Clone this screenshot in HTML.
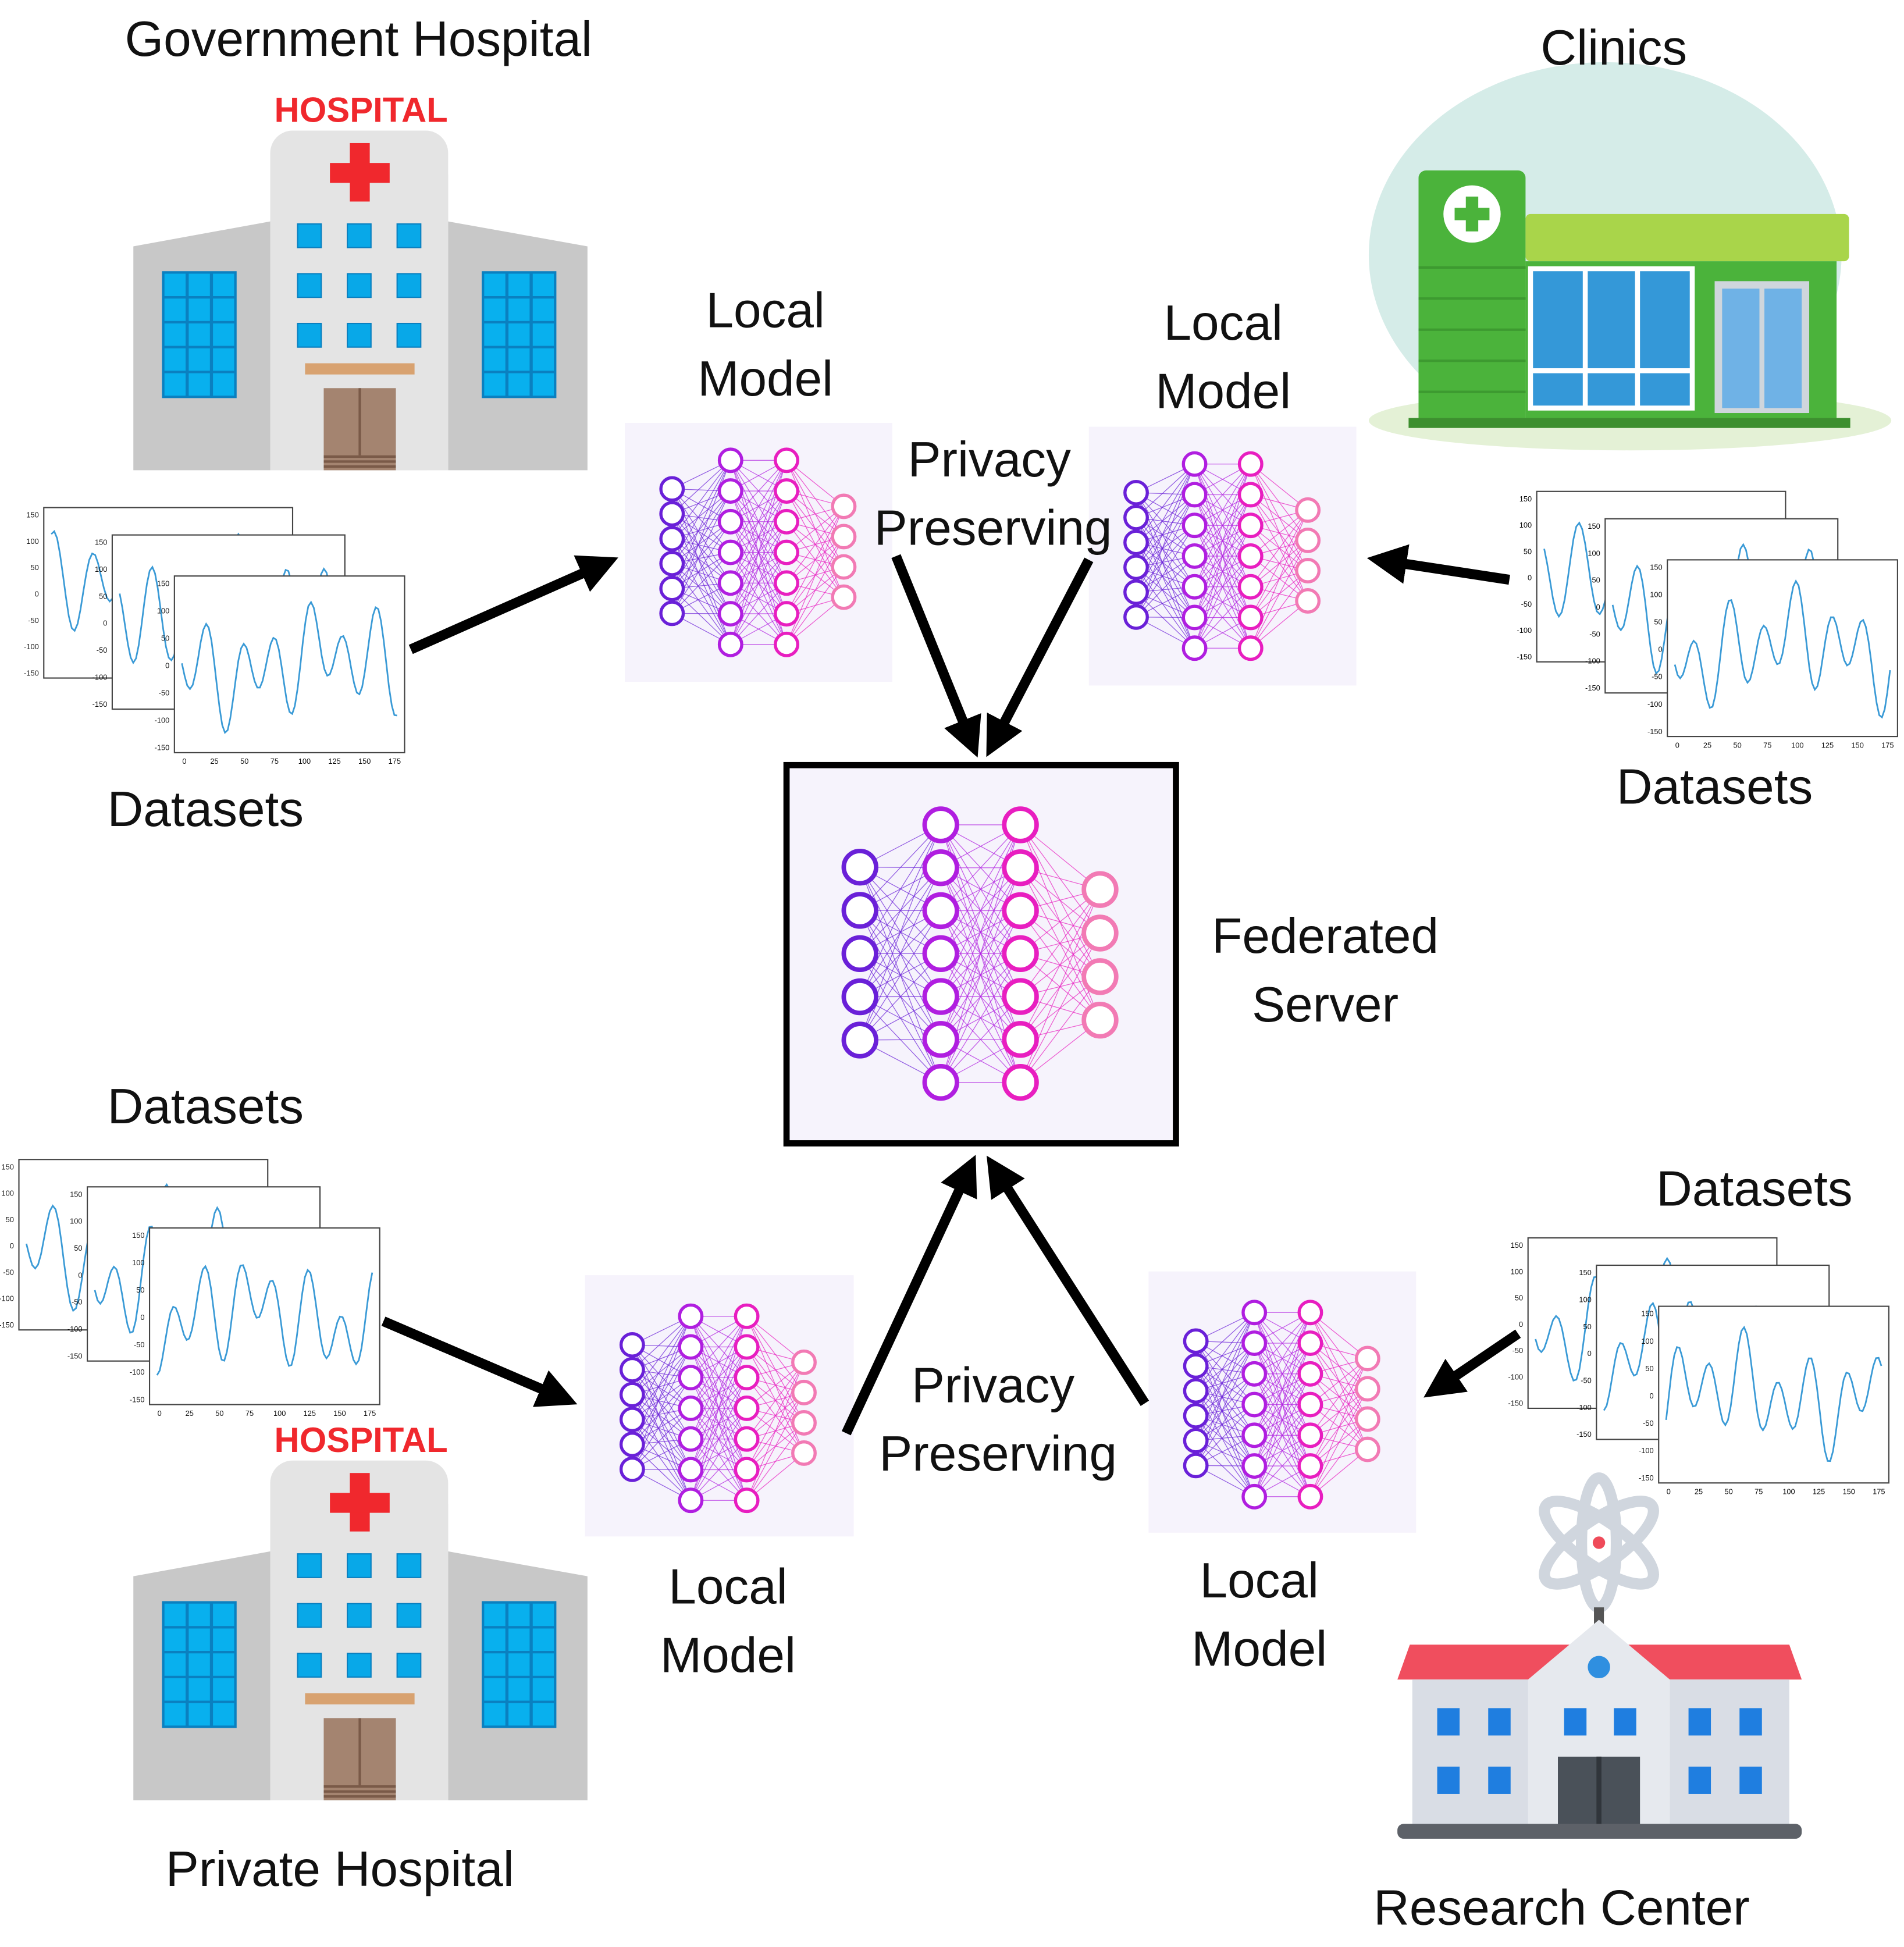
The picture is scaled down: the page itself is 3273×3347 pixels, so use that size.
<!DOCTYPE html>
<html><head><meta charset="utf-8">
<style>
html,body{margin:0;padding:0;background:#fff;}
svg{display:block;}
text{font-family:"Liberation Sans",sans-serif;fill:#111;}
</style></head>
<body>
<svg id="s" width="3273" height="3347" viewBox="0 0 1530 1565" xmlns="http://www.w3.org/2000/svg">
<defs>
<marker id="ah" viewBox="0 0 10 10" refX="7" refY="5" markerWidth="4" markerHeight="4" orient="auto"><path d="M0,0 L10,5 L0,10 z" fill="#000"/></marker>
</defs>
<rect width="1530" height="1565" fill="#fff"/>

<!-- Clinic -->
<g>
<ellipse cx="1290" cy="205" rx="190" ry="155" fill="#d5ece8"/>
<ellipse cx="1310" cy="338" rx="210" ry="24" fill="#e4f1d6"/>
<rect x="1140" y="137" width="86" height="205" rx="6" fill="#4bb33b"/>
<g stroke="#3d9a30" stroke-width="2"><line x1="1140" y1="215" x2="1226" y2="215"/><line x1="1140" y1="240" x2="1226" y2="240"/><line x1="1140" y1="265" x2="1226" y2="265"/><line x1="1140" y1="290" x2="1226" y2="290"/><line x1="1140" y1="315" x2="1226" y2="315"/></g>
<circle cx="1183" cy="172" r="23" fill="#fff"/>
<rect x="1178" y="158" width="10" height="28" fill="#4bb33b"/><rect x="1169" y="167" width="28" height="10" fill="#4bb33b"/>
<rect x="1226" y="172" width="260" height="38" rx="4" fill="#a9d54a"/>
<rect x="1226" y="210" width="250" height="132" fill="#4bb33b"/>
<rect x="1228" y="214" width="134" height="116" fill="#fff"/>
<rect x="1232" y="218" width="40" height="78" fill="#3498d8"/><rect x="1276" y="218" width="38" height="78" fill="#3498d8"/><rect x="1318" y="218" width="40" height="78" fill="#3498d8"/>
<rect x="1232" y="300" width="40" height="26" fill="#3498d8"/><rect x="1276" y="300" width="38" height="26" fill="#3498d8"/><rect x="1318" y="300" width="40" height="26" fill="#3498d8"/>
<rect x="1378" y="226" width="76" height="106" fill="#cfd6dc"/>
<rect x="1384" y="232" width="30" height="96" fill="#6fb2e6"/><rect x="1418" y="232" width="30" height="96" fill="#6fb2e6"/>
<rect x="1132" y="336" width="355" height="8" fill="#3d8f2f"/>
</g>
<text x="1297" y="52" font-size="40" text-anchor="middle">Clinics</text>

<!-- Hospitals -->
<g id="hosp1"></g>
<g id="hosp2"></g>

<!-- Research center -->
<g>
<g fill="none" stroke="#d0d6de" stroke-width="9">
<ellipse cx="1285" cy="1240" rx="52" ry="18" transform="rotate(35 1285 1240)"/>
<ellipse cx="1285" cy="1240" rx="52" ry="18" transform="rotate(-35 1285 1240)"/>
<ellipse cx="1285" cy="1240" rx="14" ry="52"/>
</g>
<circle cx="1285" cy="1240" r="5" fill="#ef4b5a"/>
<rect x="1281" y="1292" width="8" height="14" fill="#555"/>
<path d="M1133 1322 H1438 L1448 1350 H1123 Z" fill="#f04e5e"/>
<rect x="1135" y="1350" width="303" height="118" fill="#d9dde5"/>
<path d="M1228 1350 L1285 1302 L1342 1350 V1468 H1228 Z" fill="#e6e9ee"/>
<circle cx="1285" cy="1340" r="9" fill="#2f8fe0"/>
<g fill="#1f7ee0">
<rect x="1155" y="1373" width="18" height="22"/><rect x="1196" y="1373" width="18" height="22"/>
<rect x="1257" y="1373" width="18" height="22"/><rect x="1297" y="1373" width="18" height="22"/>
<rect x="1357" y="1373" width="18" height="22"/><rect x="1398" y="1373" width="18" height="22"/>
<rect x="1155" y="1420" width="18" height="22"/><rect x="1196" y="1420" width="18" height="22"/>
<rect x="1357" y="1420" width="18" height="22"/><rect x="1398" y="1420" width="18" height="22"/>
</g>
<rect x="1252" y="1412" width="66" height="56" fill="#4a5159"/>
<rect x="1283" y="1412" width="4" height="56" fill="#30353b"/>
<rect x="1123" y="1466" width="325" height="12" rx="5" fill="#5d6168"/>
</g>

<!-- charts -->
<g id="charts"></g>

<!-- NN boxes -->
<rect x="502" y="340" width="215" height="208" fill="#f6f3fc"/>
<rect x="875" y="343" width="215" height="208" fill="#f6f3fc"/>
<rect x="470" y="1025" width="216" height="210" fill="#f6f3fc"/>
<rect x="923" y="1022" width="215" height="210" fill="#f6f3fc"/>
<rect x="632" y="615" width="313" height="304" fill="#f6f3fc" stroke="#000" stroke-width="5"/>
<g id="nns"></g>

<!-- arrows -->
<g stroke="#000" stroke-width="8" marker-end="url(#ah)" fill="none">
<line x1="330" y1="522" x2="488" y2="452"/>
<line x1="1213" y1="466" x2="1108" y2="450"/>
<line x1="720" y1="447" x2="782" y2="600"/>
<line x1="875" y1="450" x2="797" y2="600"/>
<line x1="308" y1="1062" x2="455" y2="1125"/>
<line x1="1220" y1="1072" x2="1152" y2="1118"/>
<line x1="680" y1="1152" x2="780" y2="937"/>
<line x1="920" y1="1128" x2="798" y2="937"/>
</g>

<!-- labels -->
<g font-size="40" text-anchor="middle">
<text x="288" y="45">Government Hospital</text>
<text x="615" y="263">Local</text><text x="615" y="318">Model</text>
<text x="983" y="273">Local</text><text x="983" y="328">Model</text>
<text x="795" y="383">Privacy</text><text x="798" y="438">Preserving</text>
<text x="165" y="664">Datasets</text>
<text x="1378" y="646">Datasets</text>
<text x="1065" y="766">Federated</text><text x="1065" y="821">Server</text>
<text x="165" y="903">Datasets</text>
<text x="1410" y="969">Datasets</text>
<text x="798" y="1127">Privacy</text><text x="802" y="1182">Preserving</text>
<text x="585" y="1289">Local</text><text x="585" y="1344">Model</text>
<text x="1012" y="1284">Local</text><text x="1012" y="1339">Model</text>
<text x="273" y="1516">Private Hospital</text>
<text x="1255" y="1547">Research Center</text>
</g>
</svg>
<script>
const NS="http://www.w3.org/2000/svg";
function el(p,t,a){const e=document.createElementNS(NS,t);for(const k in a)e.setAttribute(k,a[k]);p.appendChild(e);return e;}
// hospitals
function hosp(g,dy){
 el(g,"path",{d:`M107 ${198+dy} L217 ${178+dy} V${378+dy} H107 Z`,fill:"#c8c8c8"});
 el(g,"path",{d:`M360 ${178+dy} L472 ${198+dy} V${378+dy} H360 Z`,fill:"#c8c8c8"});
 el(g,"rect",{x:217,y:105+dy,width:143,height:273,rx:18,fill:"#e4e4e4"});
 el(g,"rect",{x:217,y:140+dy,width:143,height:238,fill:"#e4e4e4"});
 const t=el(g,"text",{x:290,y:98+dy,"font-size":28,"font-weight":"bold","text-anchor":"middle",style:"fill:#f0282d"});t.textContent="HOSPITAL";
 el(g,"rect",{x:281,y:115+dy,width:16,height:47,fill:"#f0282d"});
 el(g,"rect",{x:265,y:131+dy,width:48,height:16,fill:"#f0282d"});
 for(let r=0;r<3;r++)for(let c=0;c<3;c++)el(g,"rect",{x:239+c*40,y:180+dy+r*40,width:19,height:19,fill:"#08a8e8",stroke:"#0a80c0","stroke-width":1});
 [130,387].forEach(x=>{el(g,"rect",{x:x,y:218+dy,width:60,height:102,fill:"#0a80c0"});
  for(let r=0;r<5;r++)for(let c=0;c<3;c++)el(g,"rect",{x:x+2+c*19.5,y:220+dy+r*20,width:17,height:18,fill:"#08b0ee"});});
 el(g,"rect",{x:245,y:292+dy,width:88,height:9,fill:"#d8a270"});
 el(g,"rect",{x:260,y:312+dy,width:58,height:66,fill:"#a48470"});
 el(g,"line",{x1:289,y1:312+dy,x2:289,y2:366+dy,stroke:"#7a5a48","stroke-width":2});
 for(let i=0;i<3;i++)el(g,"rect",{x:260,y:366+dy+i*4,width:58,height:2,fill:"#7a5a48"});
}
hosp(document.getElementById("hosp1"),0);
hosp(document.getElementById("hosp2"),1069);
// charts
const cg=document.getElementById("charts");
function chart(x,y,w,h,seed,full){
 el(cg,"rect",{x:x,y:y,width:w,height:h,fill:"#fff",stroke:"#444","stroke-width":1});
 let pts=[];const n=80;
 for(let i=0;i<=n;i++){const t=i/n;const v=Math.sin(t*40+seed)*0.5+Math.sin(t*23+seed*2)*0.3+Math.sin(t*7+seed)*0.2;
  pts.push((x+6+t*(w-12)).toFixed(1)+","+(y+h*0.5-v*h*0.4).toFixed(1));}
 el(cg,"polyline",{points:pts.join(" "),fill:"none",stroke:"#3a9ad6","stroke-width":1.3});
 for(let i=0;i<7;i++){const tt=el(cg,"text",{x:x-4,y:y+8+i*(h-10)/6,"font-size":6,"text-anchor":"end"});tt.textContent=[150,100,50,0,-50,-100,-150][i];}
 if(full)for(let i=0;i<8;i++){const tt=el(cg,"text",{x:x+8+i*(w-16)/7,y:y+h+9,"font-size":6,"text-anchor":"middle"});tt.textContent=i*25;}
}
function stack(x,y,s){chart(x,y,200,137,s,false);chart(x+55,y+22,187,140,s+1,false);chart(x+105,y+55,185,142,s+2,true);}
stack(35,408,1);stack(1235,395,2);stack(15,932,3);stack(1228,995,4);
// NNs
const ng=document.getElementById("nns");
const cols=["#6a20d8","#b01ee0","#e81ec0","#f27ab4"];
function nn(lx,ys,r){
 const L=lx.map((x,i)=>ys[i].map(y=>[x,y]));
 for(let i=0;i<3;i++)for(const a of L[i])for(const b of L[i+1])el(ng,"line",{x1:a[0],y1:a[1],x2:b[0],y2:b[1],stroke:cols[i],"stroke-width":0.6,opacity:0.7});
 L.forEach((l,i)=>l.forEach(p=>el(ng,"circle",{cx:p[0],cy:p[1],r:r,fill:"#fff",stroke:cols[i],"stroke-width":r*0.28})));
}
function range(a,b,n){const o=[];for(let i=0;i<n;i++)o.push(a+(b-a)*i/(n-1));return o;}
function small(x,y){nn([x+38,x+85,x+130,x+176],[range(y+53,y+153,6),range(y+30,y+178,7),range(y+30,y+178,7),range(y+67,y+140,4)],9);}
small(502,340);small(875,343);small(470,1028);small(923,1025);
nn([691,756,820,884],[range(697,836,5),range(663,870,7),range(663,870,7),range(715,820,4)],13);
</script>
</body></html>
